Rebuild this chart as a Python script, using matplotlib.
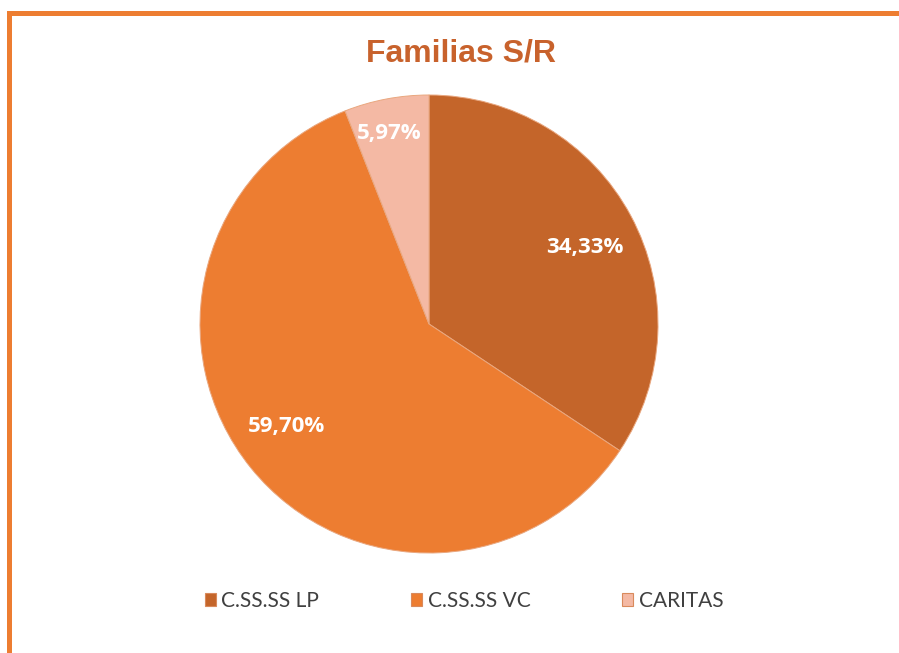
import matplotlib
matplotlib.use("Agg")
import matplotlib.pyplot as plt
from matplotlib.patches import Rectangle, Patch
import numpy as np

title = "Familias S/R"
categories = ["C.SS.SS LP", "C.SS.SS VC", "CARITAS"]
values = [34.33, 59.70, 5.97]
labels = ["34,33%", "59,70%", "5,97%"]
colors = ["#C4652A", "#ED7D31", "#F4B9A4"]

W, H = 899, 653
fig = plt.figure(figsize=(W / 100, H / 100), dpi=100)

# orange frame (top and left edges)
fig.patches.append(Rectangle((7 / W, 0), 5 / W, (H - 11) / H, transform=fig.transFigure,
                             facecolor="#ED7D31", edgecolor="none"))
fig.patches.append(Rectangle((7 / W, (H - 16) / H), (W - 7) / W, 5 / H, transform=fig.transFigure,
                             facecolor="#ED7D31", edgecolor="none"))

cx, cy, r = 429, 324, 229
ax = fig.add_axes([(cx - r) / W, (H - cy - r) / H, 2 * r / W, 2 * r / H])
wedges, _ = ax.pie(values, colors=colors, startangle=90, counterclock=False, radius=1,
                   wedgeprops=dict(edgecolor="#E9A77F", linewidth=0.7))
ax.set_xlim(-1, 1)
ax.set_ylim(-1, 1)
ax.set_aspect("equal")
ax.axis("off")

dists = [0.76, 0.765, 0.85]
ang_off = [-2.0, -3.2, 1.0]
for w, lab, d, o in zip(wedges, labels, dists, ang_off):
    ang = np.deg2rad((w.theta1 + w.theta2) / 2 + o)
    ax.text(d * np.cos(ang), d * np.sin(ang), lab, ha="center", va="center",
            color="white", fontsize=16, fontweight="bold", family="Open Sans")

fig.text(461 / W, 1 - 53 / H, title, ha="center", va="center", fontsize=23,
         fontweight="bold", color="#C8622C", family="Liberation Sans")

handles = [Patch(facecolor=c, edgecolor="#D98A5C", linewidth=0.8) for c in colors]
leg = fig.legend(handles, categories, loc="center", bbox_to_anchor=(464 / W, 1 - 601 / H),
                 ncol=3, frameon=False, columnspacing=4.4,
                 handlelength=0.55, handleheight=0.55, handletextpad=0.25,
                 prop=dict(family="Lato", size=15))
for t in leg.get_texts():
    t.set_color("#404040")

fig.savefig("out.png", dpi=100)
